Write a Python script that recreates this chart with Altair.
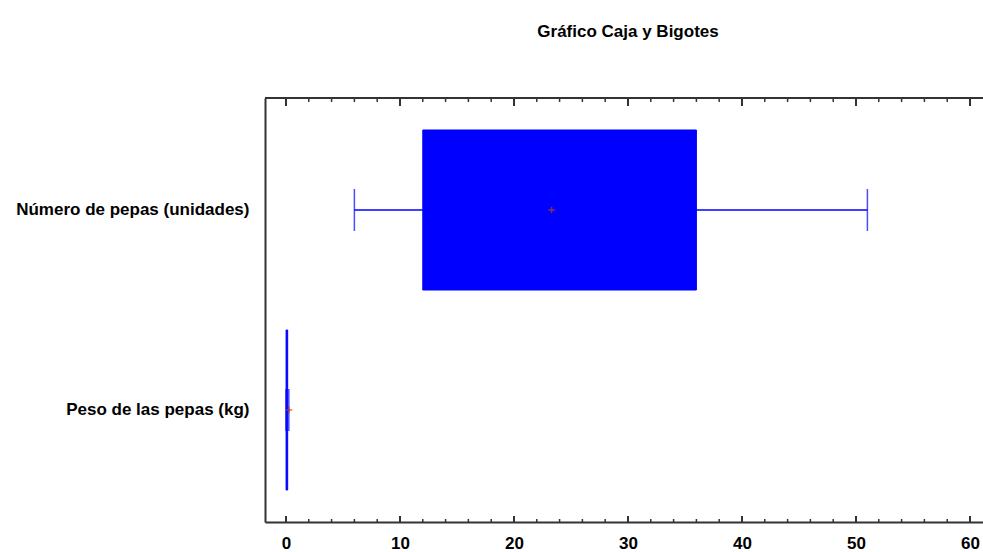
import altair as alt
import pandas as pd

categories = ["Número de pepas (unidades)", "Peso de las pepas (kg)"]
mins = [6, 0.0]
q1s = [12, 0.01]
q3s = [36, 0.15]
maxs = [51, 0.25]
means = [23.3, 0.28]

major_ticks = [0, 10, 20, 30, 40, 50, 60]
minor_ticks = [2, 4, 6, 8, 12, 14, 16, 18, 22, 24, 26, 28, 32, 34, 36, 38,
               42, 44, 46, 48, 52, 54, 56, 58]

FONT = "Liberation Sans, Arial"
BLUE = "#0000FF"
AXC = "#333333"

df = pd.DataFrame({"cat": categories, "mn": mins, "q1": q1s, "q3": q3s,
                   "mx": maxs, "mean": means})
maj = pd.DataFrame({"v": major_ticks})
mnr = pd.DataFrame({"v": minor_ticks})

xscale = alt.Scale(domain=[-1.84, 61.14], nice=False, zero=False)
yscale = alt.Scale(domain=categories, paddingInner=0, paddingOuter=0.06)

xaxis = alt.Axis(values=major_ticks, format="d", ticks=False, grid=False,
                 domainColor=AXC, domainWidth=2, labelFont=FONT, labelFontSize=17,
                 labelFontWeight="bold", labelColor="black", labelPadding=13, title=None)
yaxis = alt.Axis(ticks=False, grid=False, domainColor=AXC, domainWidth=2,
                 labelFont=FONT, labelFontSize=17, labelFontWeight="bold",
                 labelColor="black", labelPadding=16, labelLimit=400, title=None)

base = alt.Chart(df)

box = base.mark_bar(color=BLUE, stroke=BLUE, strokeWidth=1, size=160).encode(
    x=alt.X("q1:Q", scale=xscale, axis=xaxis),
    x2="q3:Q",
    y=alt.Y("cat:N", scale=yscale, axis=yaxis, sort=categories),
)
wl = base.mark_rule(color=BLUE, strokeWidth=1.5).encode(
    x=alt.X("mn:Q", scale=xscale), x2="q1:Q", y=alt.Y("cat:N", sort=categories))
wr = base.mark_rule(color=BLUE, strokeWidth=1.5).encode(
    x=alt.X("q3:Q", scale=xscale), x2="mx:Q", y=alt.Y("cat:N", sort=categories))
capl = base.mark_tick(color=BLUE, thickness=1.5, size=42, orient="vertical").encode(
    x=alt.X("mn:Q", scale=xscale), y=alt.Y("cat:N", sort=categories))
capr = base.mark_tick(color=BLUE, thickness=1.5, size=42, orient="vertical").encode(
    x=alt.X("mx:Q", scale=xscale), y=alt.Y("cat:N", sort=categories))
meanpt = base.mark_point(shape="M-1,0L1,0M0,-1L0,1", color="#C0401A",
                         strokeWidth=1.5, size=40, filled=False).encode(
    x=alt.X("mean:Q", scale=xscale), y=alt.Y("cat:N", sort=categories))

top_line = alt.Chart(maj).mark_rule(color=AXC, strokeWidth=2).encode(
    x=alt.value(0), x2=alt.value(718), y=alt.value(0))
top_major = alt.Chart(maj).mark_rule(color=AXC, strokeWidth=2).encode(
    x=alt.X("v:Q", scale=xscale), y=alt.value(0), y2=alt.value(8))
top_minor = alt.Chart(mnr).mark_rule(color=AXC, strokeWidth=1.5).encode(
    x=alt.X("v:Q", scale=xscale), y=alt.value(0), y2=alt.value(4))
bot_major = alt.Chart(maj).mark_rule(color=AXC, strokeWidth=2).encode(
    x=alt.X("v:Q", scale=xscale), y=alt.value(424), y2=alt.value(418))
bot_minor = alt.Chart(mnr).mark_rule(color=AXC, strokeWidth=1.5).encode(
    x=alt.X("v:Q", scale=xscale), y=alt.value(424), y2=alt.value(421))

chart = alt.layer(
    top_line, top_major, top_minor, bot_major, bot_minor,
    box, wl, wr, capl, capr, meanpt
).properties(
    width=718, height=424,
    title=alt.TitleParams("Gráfico Caja y Bigotes", font=FONT, fontSize=17,
                          fontWeight="bold", color="black", anchor="middle",
                          baseline="alphabetic", offset=43, dx=4),
    autosize=alt.AutoSizeParams(type="none"),
    padding={"left": 265, "top": 98, "right": 0, "bottom": 30},
).configure_view(stroke=None).configure(background="white")

chart.save("out.html", embed_options={"renderer": "svg", "actions": False})
